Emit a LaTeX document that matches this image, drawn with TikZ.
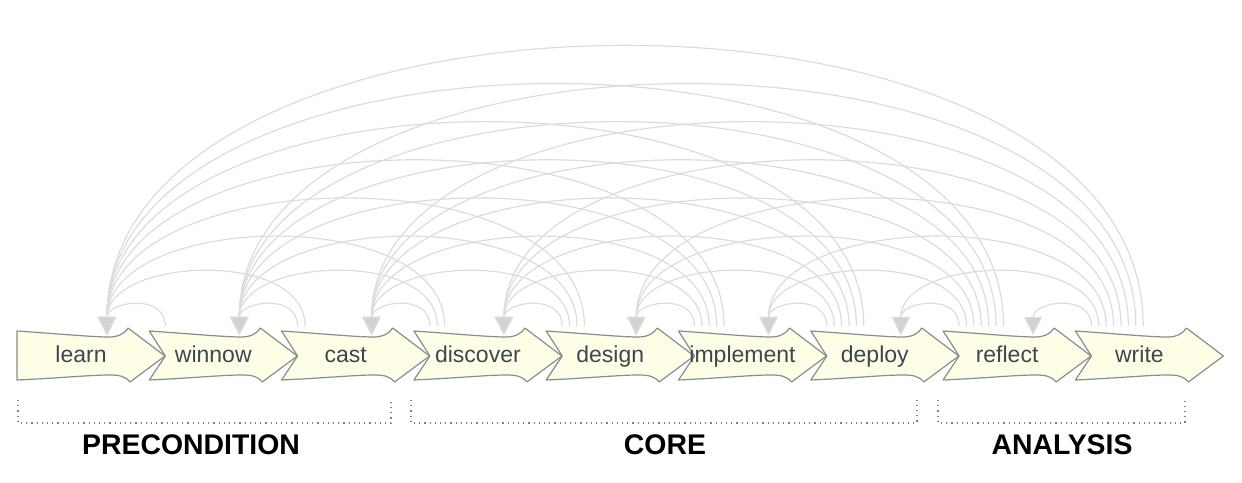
\documentclass[tikz,border=0pt]{standalone}
\usepackage{fontspec}
\setmainfont{Liberation Sans}
\usetikzlibrary{positioning, arrows.meta, backgrounds}
\definecolor{stagefill}{HTML}{FEFEE6}
\definecolor{stageline}{HTML}{8C8C8C}
\definecolor{arcgray}{HTML}{DCDCDC}
\definecolor{headgray}{HTML}{D2D2D2}
\definecolor{labelgray}{HTML}{3E4650}
\tikzset{
stagetext/.style={inner sep=0pt, outer sep=0pt, minimum width=66.15pt, minimum height=30pt,
  text height=8.5pt, text depth=2.5pt, text=labelgray, font=\fontsize{11.5}{13}\selectfont},
group/.style={font=\fontsize{14.2}{16}\selectfont\bfseries},
bracket/.style={draw=gray, dotted, line width=0.6pt},
back/.style={draw=arcgray, line width=0.6pt,
  -{Triangle[width=9pt, length=9pt, fill=headgray]}, out=90, in=90, looseness=0.93},
pics/stage/.style={code={
  \draw[draw=stageline, fill=stagefill, line width=0.6pt, line join=round]
    (-64,25) .. controls (-20,22) and (12,19) .. (28,19)
    .. controls (38,19) and (44,23) .. (47,28) -- (84,0) -- (49,-26)
    .. controls (44,-20) and (38,-19) .. (28,-19)
    .. controls (10,-19) and (-20,-22) .. (-64,-24) -- (-64+#1,0) -- cycle;
}},
}

\begin{document}
\begin{tikzpicture}[x=0.5pt, y=0.5pt, node distance=0pt]
    \useasboundingbox (0,-126) rectangle (1242,356);

    %steps
    \node[stagetext] (learn) at (81,0) {learn};
    \node[stagetext, right=of learn]     (winnow) {winnow};
    \node[stagetext, right=of winnow]      (cast) {cast};
    \node[stagetext, right=of cast]    (discover) {discover};
    \node[stagetext, right=of discover]  (design) {design};
    \node[stagetext, right=of design] (implement) {implement};
    \node[stagetext, right=of implement] (deploy) {deploy};
    \node[stagetext, right=of deploy]   (reflect) {reflect};
    \node[stagetext, right=of reflect]    (write) {write};

    %arrow bodies behind the text
    \begin{scope}[on background layer]
    \pic at (learn) {stage=0};
    \pic at (winnow) {stage=16};
    \pic at (cast) {stage=16};
    \pic at (discover) {stage=16};
    \pic at (design) {stage=16};
    \pic at (implement) {stage=16};
    \pic at (deploy) {stage=16};
    \pic at (reflect) {stage=16};
    \pic at (write) {stage=16};
    \end{scope}

    %where the back arcs land
    \coordinate (learn-in)     at ([shift={(26,-9)}]learn.north);
    \coordinate (winnow-in)    at ([shift={(26,-9)}]winnow.north);
    \coordinate (cast-in)      at ([shift={(26,-9)}]cast.north);
    \coordinate (discover-in)  at ([shift={(26,-9)}]discover.north);
    \coordinate (design-in)    at ([shift={(26,-9)}]design.north);
    \coordinate (implement-in) at ([shift={(26,-9)}]implement.north);
    \coordinate (deploy-in)    at ([shift={(26,-9)}]deploy.north);
    \coordinate (reflect-in)   at ([shift={(26,-9)}]reflect.north);

    %back arcs from winnow
    \draw[back, looseness=1.45] ([xshift=-24pt]winnow.north) to (learn-in);

    %back arcs from cast
    \draw[back, looseness=1.45] ([xshift=-24pt]cast.north) to (winnow-in);
    \draw[back, looseness=1.0] ([xshift=-20.3pt]cast.north) to (learn-in);

    %back arcs from discover
    \draw[back, looseness=1.45] ([xshift=-24pt]discover.north) to (cast-in);
    \draw[back, looseness=1.0] ([xshift=-20.3pt]discover.north) to (winnow-in);
    \draw[back] ([xshift=-16.6pt]discover.north) to (learn-in);

    %back arcs from design
    \draw[back, looseness=1.45] ([xshift=-24pt]design.north) to (discover-in);
    \draw[back, looseness=1.0] ([xshift=-20.3pt]design.north) to (cast-in);
    \draw[back] ([xshift=-16.6pt]design.north) to (winnow-in);
    \draw[back] ([xshift=-12.9pt]design.north) to (learn-in);

    %back arcs from implement
    \draw[back, looseness=1.45] ([xshift=-24pt]implement.north) to (design-in);
    \draw[back, looseness=1.0] ([xshift=-20.3pt]implement.north) to (discover-in);
    \draw[back] ([xshift=-16.6pt]implement.north) to (cast-in);
    \draw[back] ([xshift=-12.9pt]implement.north) to (winnow-in);
    \draw[back] ([xshift=-9.2pt]implement.north) to (learn-in);

    %back arcs from deploy
    \draw[back, looseness=1.45] ([xshift=-24pt]deploy.north) to (implement-in);
    \draw[back, looseness=1.0] ([xshift=-20.3pt]deploy.north) to (design-in);
    \draw[back] ([xshift=-16.6pt]deploy.north) to (discover-in);
    \draw[back] ([xshift=-12.9pt]deploy.north) to (cast-in);
    \draw[back] ([xshift=-9.2pt]deploy.north) to (winnow-in);
    \draw[back] ([xshift=-5.5pt]deploy.north) to (learn-in);

    %back arcs from reflect
    \draw[back, looseness=1.45] ([xshift=-24pt]reflect.north) to (deploy-in);
    \draw[back, looseness=1.0] ([xshift=-20.3pt]reflect.north) to (implement-in);
    \draw[back] ([xshift=-16.6pt]reflect.north) to (design-in);
    \draw[back] ([xshift=-12.9pt]reflect.north) to (discover-in);
    \draw[back] ([xshift=-9.2pt]reflect.north) to (cast-in);
    \draw[back] ([xshift=-5.5pt]reflect.north) to (winnow-in);
    \draw[back] ([xshift=-1.8pt]reflect.north) to (learn-in);

    %back arcs from write
    \draw[back, looseness=1.45] ([xshift=-24pt]write.north) to (reflect-in);
    \draw[back, looseness=1.0] ([xshift=-20.3pt]write.north) to (deploy-in);
    \draw[back] ([xshift=-16.6pt]write.north) to (implement-in);
    \draw[back] ([xshift=-12.9pt]write.north) to (design-in);
    \draw[back] ([xshift=-9.2pt]write.north) to (discover-in);
    \draw[back] ([xshift=-5.5pt]write.north) to (cast-in);
    \draw[back] ([xshift=-1.8pt]write.north) to (winnow-in);
    \draw[back] ([xshift=1.9pt]write.north) to (learn-in);

    %groups
    \draw[bracket] (18,-44) |- (391,-67) -- (391,-44);
    \draw[bracket] (411,-44) |- (917,-67) -- (917,-44);
    \draw[bracket] (938,-44) |- (1185,-67) -- (1185,-44);
    \node[group] (pre)      at (191,-89)  {PRECONDITION};
    \node[group] (core)     at (665,-89)  {CORE};
    \node[group] (analysis) at (1062,-89) {ANALYSIS};

\end{tikzpicture}
\end{document}
